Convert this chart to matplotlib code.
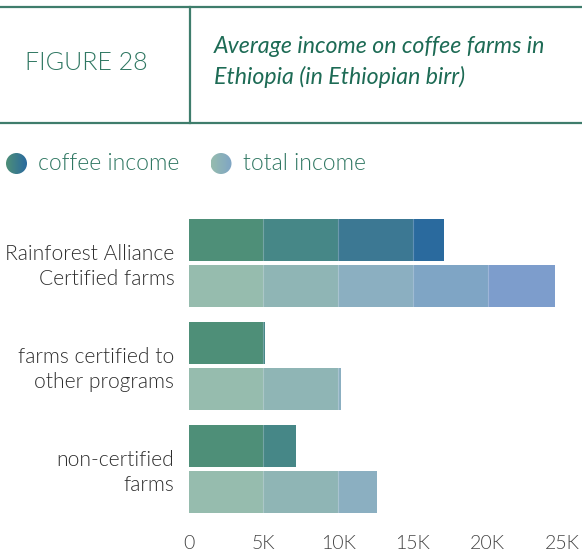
import numpy as np
import matplotlib.pyplot as plt
from matplotlib.colors import LinearSegmentedColormap
from matplotlib.patches import Circle

# data (Ethiopian birr)
categories = ["Rainforest Alliance\nCertified farms",
              "farms certified to\nother programs",
              "non-certified\nfarms"]
coffee_income = [17100, 5100, 7200]
total_income = [24500, 10200, 12600]
ticks = [0, 5000, 10000, 15000, 20000, 25000]
tick_labels = ["0", "5K", "10K", "15K", "20K", "25K"]

coffee_colors = ["#4e8f78", "#468787", "#3c7893", "#2a6a9e", "#2a6a9e"]
total_colors = ["#96bcae", "#8fb5b5", "#8bafc1", "#7fa5c5", "#7d9dcc"]

W, H = 582, 556
LIGHT = 300  # Lato-Light
plt.rcParams['font.family'] = ['Lato', 'DejaVu Sans']

fig = plt.figure(figsize=(W / 100, H / 100), dpi=100)


def px_axes(x0, y0, x1, y1):
	# axes placed by pixel box (top-left origin)
	return fig.add_axes([x0 / W, 1 - y1 / H, (x1 - x0) / W, (y1 - y0) / H])


# overlay for header and legend
over = px_axes(0, 0, W, H)
over.set_xlim(0, W)
over.set_ylim(H, 0)
over.axis("off")

line_col = "#3f7d6c"
over.plot([0, W], [7, 7], color=line_col, lw=1.6)
over.plot([0, W], [123, 123], color=line_col, lw=1.6)
over.plot([190, 190], [7, 123], color=line_col, lw=1.6)
over.text(86, 63, "FIGURE 28", fontsize=18, fontweight=LIGHT, color="#2f7762",
          ha="center", va="center")
over.text(214, 62, "Average income on coffee farms in\nEthiopia (in Ethiopian birr)",
          fontsize=16.7, style="italic", color="#1d6b55", ha="left", va="center",
          linespacing=1.5)


def grad_circle(cx, cy, r, c1, c2):
	cmap = LinearSegmentedColormap.from_list("g", [c1, c2])
	grad = np.linspace(0, 1, 64).reshape(1, -1)
	im = over.imshow(grad, cmap=cmap, extent=[cx - r, cx + r, cy + r, cy - r],
	                 aspect="auto", zorder=3)
	circ = Circle((cx, cy), r, transform=over.transData, facecolor="none", edgecolor="none")
	over.add_patch(circ)
	im.set_clip_path(circ)


grad_circle(16.5, 163.5, 10.5, "#4e8f78", "#2a6a9e")
grad_circle(221, 163.5, 10.5, "#96bcae", "#7fa5c5")
over.text(38, 164, "coffee income", fontsize=16.5, fontweight=LIGHT, color="#2f7762",
          ha="left", va="center")
over.text(243, 164, "total income", fontsize=16.5, fontweight=LIGHT, color="#2f7762",
          ha="left", va="center")
over.set_xlim(0, W)
over.set_ylim(H, 0)

# bar chart
ax = px_axes(188.5, 210, 562.5, 520)
ax.set_xlim(0, 25000)
ax.set_ylim(2.495, -0.515)
ax.axis("off")

bar_h = 0.408
off = 0.223
step = 5000


def seg_bar(y, value, colors):
	start = 0
	i = 0
	while start < value:
		end = min(start + step, value)
		ax.barh(y, end - start, left=start, height=bar_h, color=colors[i],
		        edgecolor="none", linewidth=0)
		if start > 0:
			ax.plot([start, start], [y - bar_h / 2, y + bar_h / 2], color="white",
			        lw=0.8, alpha=0.25)
		start = end
		i += 1


for i, cat in enumerate(categories):
	seg_bar(i - off, coffee_income[i], coffee_colors)
	seg_bar(i + off, total_income[i], total_colors)
	ax.text(-950, i + 0.03, cat, ha="right", va="center", fontsize=15.1, fontweight=LIGHT,
	        color="#2e2e2e", linespacing=1.32)

for t, lab in zip(ticks, tick_labels):
	ax.text(t, 2.72, lab, ha="center", va="center", fontsize=14, fontweight=LIGHT,
	        color="#444444")

fig.savefig("out.png", dpi=100)
